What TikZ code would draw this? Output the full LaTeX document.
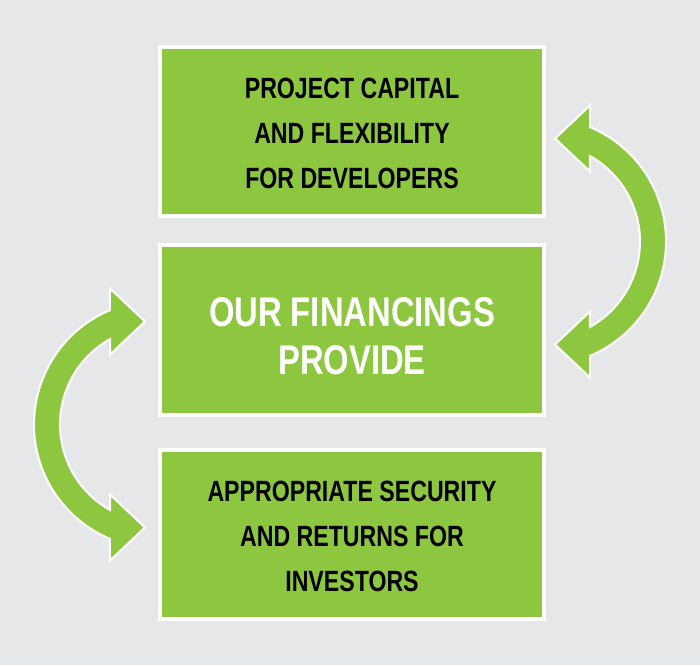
\documentclass[tikz,border=0pt]{standalone}
\usepackage{fontspec}
\newfontfamily\boxfont{Liberation Sans}[FakeStretch=0.79]
\definecolor{bggray}{HTML}{E6E7E8}
\definecolor{leaf}{HTML}{8DC63F}
\begin{document}
\begin{tikzpicture}[x=1pt,y=1pt,
  box/.style={draw=white, line width=4pt, fill=leaf, minimum width=384pt, minimum height=169pt, inner sep=0pt},
  smalltext/.style={align=center, inner sep=0pt, font=\boxfont\bfseries\fontsize{29.3}{45}\selectfont, text=black},
  bigtext/.style={align=center, inner sep=0pt, font=\boxfont\bfseries\fontsize{41.5}{47.5}\selectfont, text=white},
  bendarrow/.style={fill=leaf, draw=white, line width=2pt, line join=miter}]
\fill[bggray] (0,0) rectangle (700,665);
\useasboundingbox (0,0) rectangle (700,665);
\node[box] (top) at (352,533.5) {};
\node[box, minimum height=170pt] (mid) at (352,335) {};
\node[box] (bot) at (352,130.5) {};
\node[smalltext] (toptext) at ([yshift=-2pt]top.center) {PROJECT CAPITAL\\AND FLEXIBILITY\\FOR DEVELOPERS};
\node[bigtext] (midtext) at ([yshift=-6pt]mid.center) {OUR FINANCINGS\\PROVIDE};
\node[smalltext] (bottext) at ([yshift=-1.5pt]bot.center) {APPROPRIATE SECURITY\\AND RETURNS FOR\\INVESTORS};
% right curved double arrow
\coordinate (RC) at (542,423.5);
\draw[bendarrow] ([shift={(13,103)}]RC) -- ([shift={(48,136)}]RC)
  -- ([shift={(67.2:124)}]RC) arc[start angle=67.2, end angle=-67.2, radius=124]
  -- ([shift={(48,-136)}]RC) -- ([shift={(13,-103)}]RC) -- ([shift={(48,-70)}]RC)
  -- ([shift={(-60.7:98)}]RC) arc[start angle=-60.7, end angle=60.7, radius=98]
  -- ([shift={(48,70)}]RC) -- cycle;
% left curved double arrow
\coordinate (LC) at (158,240.5);
\draw[bendarrow] ([shift={(-13,103)}]LC) -- ([shift={(-48,136)}]LC)
  -- ([shift={(112.8:124)}]LC) arc[start angle=112.8, end angle=247.2, radius=124]
  -- ([shift={(-48,-136)}]LC) -- ([shift={(-13,-103)}]LC) -- ([shift={(-48,-70)}]LC)
  -- ([shift={(240.7:98)}]LC) arc[start angle=240.7, end angle=119.3, radius=98]
  -- ([shift={(-48,70)}]LC) -- cycle;
\end{tikzpicture}
\end{document}
